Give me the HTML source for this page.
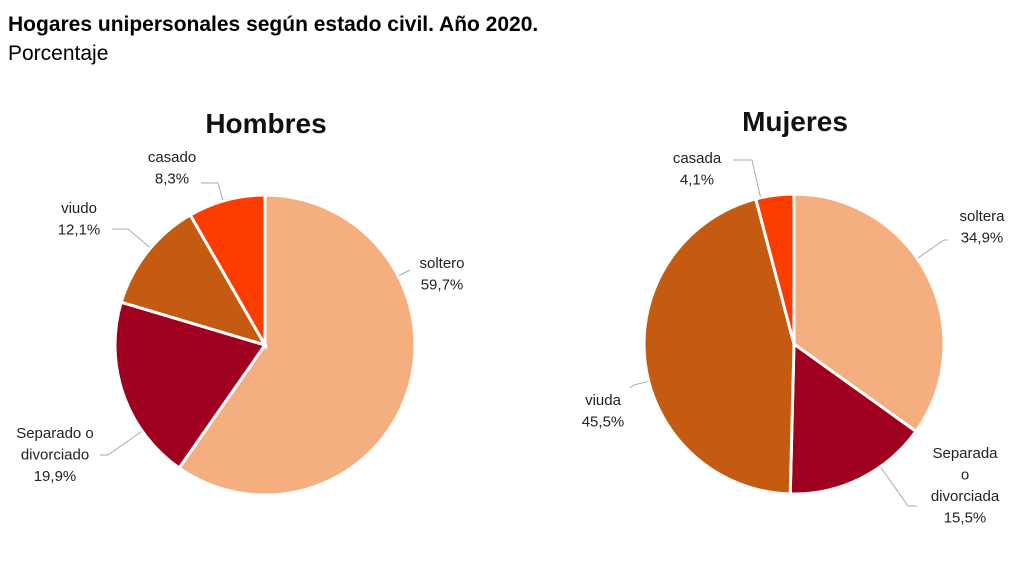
<!DOCTYPE html>
<html><head><meta charset="utf-8">
<style>
body{margin:0;background:#fff;width:1024px;height:576px;overflow:hidden;font-family:"Liberation Sans",sans-serif;}
svg{position:absolute;left:0;top:0}
</style></head>
<body>
<svg width="1024" height="576">
<text x="8" y="31" font-size="21" font-weight="bold" fill="#000">Hogares unipersonales según estado civil. Año 2020.</text>
<text x="8" y="60" font-size="21" fill="#000">Porcentaje</text>
<text x="266" y="133" font-size="28" font-weight="bold" text-anchor="middle" fill="#111">Hombres</text>
<text x="795" y="131" font-size="28" font-weight="bold" text-anchor="middle" fill="#111">Mujeres</text>
<g id="pies"></g>
<g id="labels" font-size="15" fill="#222" text-anchor="middle"></g>
</svg>
<script>
const categoriesH = ["soltero","Separado o divorciado","viudo","casado"];
const valuesH = [59.7, 19.9, 12.1, 8.3];
const categoriesM = ["soltera","Separada o divorciada","viuda","casada"];
const valuesM = [34.9, 15.5, 45.5, 4.1];
const colors = ["#F4AE80","#A00020","#C55A11","#FF3C00"];
const NS="http://www.w3.org/2000/svg";
const pies=document.getElementById('pies');
const labels=document.getElementById('labels');
function fmt(v){return v.toFixed(1).replace('.',',')+'%';}
function drawPie(vals,cats,cx,cy,r,key,labelPos){
  const tot=vals.reduce((a,b)=>a+b,0);
  let a0=0;
  vals.forEach((v,i)=>{
    const a1=a0+v/tot*Math.PI*2;
    const x0=cx+r*Math.sin(a0),y0=cy-r*Math.cos(a0);
    const x1=cx+r*Math.sin(a1),y1=cy-r*Math.cos(a1);
    const p=document.createElementNS(NS,'path');
    p.setAttribute('d',`M${cx},${cy}L${x0},${y0}A${r},${r} 0 ${a1-a0>Math.PI?1:0} 1 ${x1},${y1}Z`);
    p.setAttribute('fill',colors[i]);
    p.setAttribute('stroke','#fff');
    p.setAttribute('stroke-width','3');
    
    
    pies.appendChild(p);
    const lp=labelPos[i];
    const dx=lp.kx-cx,dy=lp.ky-cy,d=Math.hypot(dx,dy);
    const ex=cx+dx/d*(r+1),ey=cy+dy/d*(r+1);
    const ln=document.createElementNS(NS,'polyline');
    ln.setAttribute('points',`${lp.lx},${lp.ly} ${lp.kx},${lp.ky} ${ex},${ey}`);
    ln.setAttribute('fill','none');ln.setAttribute('stroke','#aaa');ln.setAttribute('stroke-width','1');
    
    
    labels.appendChild(ln);
    const lines=lp.lines.concat([fmt(v)]);
    const t=document.createElementNS(NS,'text');
    
    
    lines.forEach((s,j)=>{
      const ts=document.createElementNS(NS,'tspan');
      ts.setAttribute('x',lp.x);ts.setAttribute('y',lp.y+j*21.5);
      ts.textContent=s;t.appendChild(ts);
    });
    labels.appendChild(t);
    a0=a1;
  });
}
drawPie(valuesH,categoriesH,265,345,150,'hombres',[
 {x:442,y:268,lines:["soltero"],lx:410,ly:270,kx:406,ky:272},
 {x:55,y:438,lines:["Separado o","divorciado"],lx:100,ly:455,kx:108,ky:455},
 {x:79,y:213,lines:["viudo"],lx:112,ly:229,kx:128,ky:229},
 {x:172,y:162,lines:["casado"],lx:201,ly:183,kx:218,ky:183}
]);
drawPie(valuesM,categoriesM,794,344,150,'mujeres',[
 {x:982,y:221,lines:["soltera"],lx:948,ly:240,kx:944,ky:240},
 {x:965,y:458,lines:["Separada","o","divorciada"],lx:917,ly:506,kx:908,ky:506},
 {x:603,y:405,lines:["viuda"],lx:630,ly:388,kx:634,ky:385},
 {x:697,y:163,lines:["casada"],lx:733,ly:160,kx:752,ky:160}
]);
</script>
</body></html>
